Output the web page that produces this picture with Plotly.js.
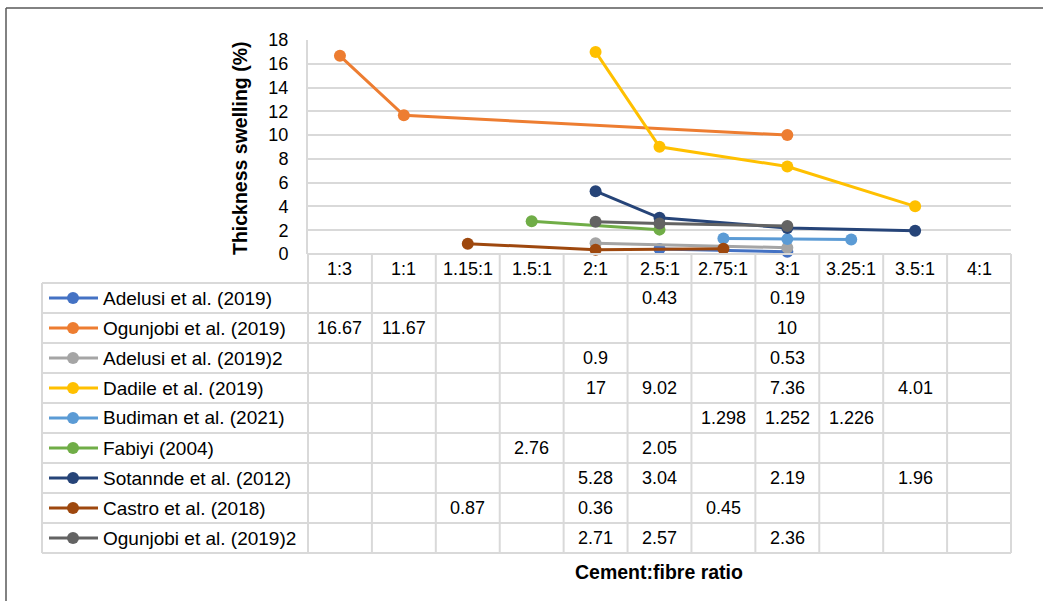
<!DOCTYPE html>
<html>
<head>
<meta charset="utf-8">
<script src="https://cdn.plot.ly/plotly-3.0.1.min.js"></script>
<style>html,body{margin:0;padding:0;background:#fff;}#chart{width:1043px;height:601px;}</style>
</head>
<body>
<div id="chart"></div>
<script>
// ---- data ----
const categories = ["1:3","1:1","1.15:1","1.5:1","2:1","2.5:1","2.75:1","3:1","3.25:1","3.5:1","4:1"];
const seriesNames = ["Adelusi et al. (2019)","Ogunjobi et al. (2019)","Adelusi et al. (2019)2","Dadile et al. (2019)","Budiman et al. (2021)","Fabiyi (2004)","Sotannde et al. (2012)","Castro et al. (2018)","Ogunjobi et al. (2019)2"];
const adelusi    = [null,null,null,null,null,0.43,null,0.19,null,null,null];
const ogunjobi   = [16.67,11.67,null,null,null,null,null,10,null,null,null];
const adelusi2   = [null,null,null,null,0.9,null,null,0.53,null,null,null];
const dadile     = [null,null,null,null,17,9.02,null,7.36,null,4.01,null];
const budiman    = [null,null,null,null,null,null,1.298,1.252,1.226,null,null];
const fabiyi     = [null,null,null,2.76,null,2.05,null,null,null,null,null];
const sotannde   = [null,null,null,null,5.28,3.04,null,2.19,null,1.96,null];
const castro     = [null,null,0.87,null,0.36,null,0.45,null,null,null,null];
const ogunjobi2  = [null,null,null,null,2.71,2.57,null,2.36,null,null,null];
const seriesValues = [adelusi,ogunjobi,adelusi2,dadile,budiman,fabiyi,sotannde,castro,ogunjobi2];
const colors = ["#4472C4","#ED7D31","#A5A5A5","#FFC000","#5B9BD5","#70AD47","#264478","#9E480E","#636363"];
const yTicks = [0,2,4,6,8,10,12,14,16,18];

// ---- geometry (pixels) ----
const W = 1043, H = 601;
const PL = 308, PR = 1011, PT = 40, PB = 254;
const pw = PR - PL, ph = PB - PT;
const px2x = p => (p - PL) / pw;
const py2y = p => (PB - p) / ph;
const headerBottom = 283, rowH = 30, legendLeft = 42;
const nC = categories.length;
const colW = pw / nC;
const gridCol = "#D9D9D9";
const fam = "Liberation Sans, Arial, sans-serif";
const numFont = {family: fam, size: 18, color: "#000"};
const legFont = {family: fam, size: 19, color: "#000"};
const titleFont = {family: fam, size: 19.5, color: "#000"};

const traces = seriesValues.map((vals, i) => ({
  type: "scatter", mode: "lines+markers",
  x: categories, y: vals, name: seriesNames[i],
  connectgaps: true,
  line: {color: colors[i], width: 3},
  marker: {color: colors[i], size: 12},
  showlegend: false, cliponaxis: false
}));

const shapes = [];
const annotations = [];
// outer border (top & left)
shapes.push({type:"line", xref:"paper", yref:"paper", x0:px2x(6), x1:px2x(1050), y0:py2y(8), y1:py2y(8), line:{color:"#595959", width:1.5}});
shapes.push({type:"line", xref:"paper", yref:"paper", x0:px2x(6), x1:px2x(6), y0:py2y(8), y1:py2y(610), line:{color:"#595959", width:1.5}});

const tableBottom = headerBottom + rowH * seriesNames.length;
// vertical lines of the table
for (let c = 0; c <= nC; c++) {
  const xp = PL + c * colW;
  shapes.push({type:"line", xref:"paper", yref:"paper", x0:px2x(xp), x1:px2x(xp), y0:py2y(PB), y1:py2y(tableBottom), line:{color:gridCol, width:2}});
}
shapes.push({type:"line", xref:"paper", yref:"paper", x0:px2x(legendLeft), x1:px2x(legendLeft), y0:py2y(headerBottom), y1:py2y(tableBottom), line:{color:gridCol, width:2}});
// horizontal lines
shapes.push({type:"line", xref:"paper", yref:"paper", x0:0, x1:1, y0:0, y1:0, line:{color:gridCol, width:2}});
for (let r = 0; r <= seriesNames.length; r++) {
  const yp = headerBottom + r * rowH;
  shapes.push({type:"line", xref:"paper", yref:"paper", x0:px2x(legendLeft), x1:1, y0:py2y(yp), y1:py2y(yp), line:{color:gridCol, width:2}});
}
// header labels
categories.forEach((c, j) => {
  annotations.push({xref:"paper", yref:"paper", x:px2x(PL + (j + 0.5) * colW), y:py2y(269), text:c, showarrow:false, xanchor:"center", yanchor:"middle", font:numFont});
});
// rows
seriesNames.forEach((n, i) => {
  const yc = headerBottom + (i + 0.5) * rowH;
  // legend key
  shapes.push({type:"line", xref:"paper", yref:"paper", x0:px2x(49), x1:px2x(98), y0:py2y(yc), y1:py2y(yc), line:{color:colors[i], width:3}});
  shapes.push({type:"circle", xref:"paper", yref:"paper", x0:px2x(67), x1:px2x(79), y0:py2y(yc-6), y1:py2y(yc+6), fillcolor:colors[i], line:{color:colors[i], width:0}});
  annotations.push({xref:"paper", yref:"paper", x:px2x(101), y:py2y(yc), text:n, showarrow:false, xanchor:"left", yanchor:"middle", font:legFont});
  seriesValues[i].forEach((v, j) => {
    if (v === null) return;
    annotations.push({xref:"paper", yref:"paper", x:px2x(PL + (j + 0.5) * colW), y:py2y(yc), text:String(v), showarrow:false, xanchor:"center", yanchor:"middle", font:numFont});
  });
});
// axis titles
annotations.push({xref:"paper", yref:"paper", x:px2x(659), y:py2y(572), text:"<b>Cement:fibre ratio</b>", showarrow:false, xanchor:"center", yanchor:"middle", font:titleFont});
annotations.push({xref:"paper", yref:"paper", x:px2x(240), y:py2y(149), text:"<b>Thickness swelling (%)</b>", textangle:-90, showarrow:false, xanchor:"center", yanchor:"middle", font:titleFont});

const layout = {
  width: W, height: H,
  margin: {l: PL, r: W - PR, t: PT, b: H - PB, pad: 0},
  paper_bgcolor: "#fff", plot_bgcolor: "#fff",
  showlegend: false,
  xaxis: {type:"category", categoryorder:"array", categoryarray:categories, range:[-0.5, nC - 0.5], showticklabels:false, ticks:"", showgrid:false, zeroline:false, showline:false, fixedrange:true},
  yaxis: {range:[0, 18], tickvals:yTicks, ticktext:yTicks.map(String), showgrid:true, gridcolor:gridCol, gridwidth:2, zeroline:false, showline:true, linecolor:gridCol, linewidth:2, ticks:"", ticklen:0, ticklabelstandoff:14, tickfont:numFont, automargin:false, fixedrange:true},
  shapes: shapes,
  annotations: annotations
};
Plotly.newPlot("chart", traces, layout, {displayModeBar:false, staticPlot:true});
</script>
</body>
</html>
